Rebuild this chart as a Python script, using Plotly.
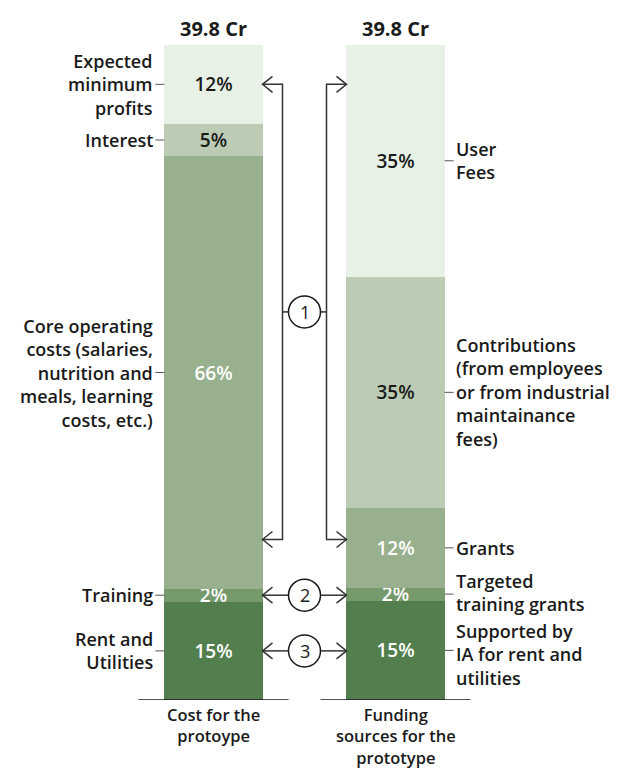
import plotly.graph_objects as go

# Two stacked columns: what the prototype costs and where the money comes from
columns = [["Cost for the", "protoype"], ["Funding", "sources for the", "prototype"]]
column_totals = ["39.8 Cr", "39.8 Cr"]

# Shares in percent, listed bottom to top
cost_share = [15, 2, 66, 5, 12]
funding_share = [15, 2, 12, 35, 35]

cost_labels = [
    ["Rent and", "Utilities"],
    ["Training"],
    ["Core operating", "costs (salaries,", "nutrition and", "meals, learning", "costs, etc.)"],
    ["Interest"],
    ["Expected", "minimum", "profits"],
]
funding_labels = [
    ["Supported by", "IA for rent and", "utilities"],
    ["Targeted", "training grants"],
    ["Grants"],
    ["Contributions", "(from employees", "or from industrial", "maintainance", "fees)"],
    ["User", "Fees"],
]
# small vertical nudges (px) so the two bottom right-hand blocks don't collide
funding_nudge = [-4, 2, 0, 0, 0]

layer_colors = ["#537e4d", "#769a6b", "#98b08d", "#bccbb4", "#e8f1e5"]
value_text_colors = ["#ffffff", "#ffffff", "#ffffff", "#1a1a1a", "#1a1a1a"]

FONT = "Open Sans"
INK = "#1a1a1a"
LINE = "#333333"
BAR_W = 0.54
LABEL_SIZE = 18


def midpoints(shares):
    """Centre of each stacked segment on a 0-100 normalised scale."""
    total = sum(shares)
    mids, run = [], 0
    for s in shares:
        mids.append((run + s / 2) / total * 100)
        run += s
    return mids


cost_mid = midpoints(cost_share)
fund_mid = midpoints(funding_share)

fig = go.Figure()
for i, color in enumerate(layer_colors):
    fig.add_trace(go.Bar(
        x=[0, 1],
        y=[cost_share[i], funding_share[i]],
        width=BAR_W,
        marker=dict(color=color, line=dict(width=0)),
        text=[f"{cost_share[i]}%", f"{funding_share[i]}%"],
        textposition="inside",
        insidetextanchor="middle",
        textangle=0,
        constraintext="none",
        textfont=dict(family=FONT, size=19, color=value_text_colors[i], weight=600),
        hoverinfo="skip",
        showlegend=False,
    ))

annotations = []
shapes = []
label_font = dict(family=FONT, size=LABEL_SIZE, color=INK, weight=600)

# Totals above and captions below each column
for xi in (0, 1):
    annotations.append(dict(
        x=xi, y=100, xref="x", yref="y", text=column_totals[xi], showarrow=False,
        yanchor="middle", yshift=17,
        font=dict(family=FONT, size=20, color=INK, weight=700),
    ))
    annotations.append(dict(
        x=xi, y=0, xref="x", yref="y", text="<br>".join(columns[xi]), showarrow=False,
        yanchor="top", yshift=-1,
        font=dict(family=FONT, size=16.5, color=INK, weight=600),
    ))
    # baseline under the column
    shapes.append(dict(
        type="line", xref="x", yref="y", xsizemode="pixel", xanchor=xi,
        x0=-75, x1=75, y0=0, y1=0, line=dict(color=INK, width=1.5),
    ))

# Segment names with leader ticks
for i in range(len(cost_share)):
    annotations.append(dict(
        x=-BAR_W / 2, y=cost_mid[i], xref="x", yref="y", text="<br>".join(cost_labels[i]),
        showarrow=False, xanchor="right", yanchor="middle", align="right", xshift=-9,
        font=label_font,
    ))
    shapes.append(dict(
        type="line", xref="x", yref="y", xsizemode="pixel", xanchor=-BAR_W / 2,
        x0=-9, x1=0, y0=cost_mid[i], y1=cost_mid[i], line=dict(color="#555555", width=1),
    ))
    annotations.append(dict(
        x=1 + BAR_W / 2, y=fund_mid[i], xref="x", yref="y", text="<br>".join(funding_labels[i]),
        showarrow=False, xanchor="left", yanchor="middle", align="left", xshift=9,
        yshift=funding_nudge[i], font=label_font,
    ))
    shapes.append(dict(
        type="line", xref="x", yref="y", xsizemode="pixel", xanchor=1 + BAR_W / 2,
        x0=0, x1=9, y0=fund_mid[i], y1=fund_mid[i], line=dict(color="#555555", width=1),
    ))

# Connectors between the columns (pixel offsets around the gap centre)
GAP_X = 0.5
EDGE = 42     # distance from gap centre to column edge
RAIL = 22     # bracket rail offset
R = 16        # badge radius
HEAD = 10     # arrowhead length


def arrowhead(y, direction):
    # direction -1 points left (tip at left column), +1 points right
    tip = direction * EDGE
    back = tip - direction * HEAD
    shapes.append(dict(
        type="path", xref="x", yref="y", xsizemode="pixel", ysizemode="pixel",
        xanchor=GAP_X, yanchor=y,
        path=f"M {back},8 L {tip},0 L {back},-8",
        line=dict(color=LINE, width=1.5),
    ))


def badge(y, label):
    shapes.append(dict(
        type="circle", xref="x", yref="y", xsizemode="pixel", ysizemode="pixel",
        xanchor=GAP_X, yanchor=y, x0=-R, x1=R, y0=-R, y1=R,
        line=dict(color=INK, width=1.5), fillcolor="white",
    ))
    annotations.append(dict(
        x=GAP_X, y=y, xref="x", yref="y", text=label, showarrow=False,
        font=dict(family=FONT, size=18, color=INK, weight=500),
    ))


def hline(y, a, b):
    shapes.append(dict(
        type="line", xref="x", yref="y", xsizemode="pixel", xanchor=GAP_X,
        x0=a, x1=b, y0=y, y1=y, line=dict(color=LINE, width=1.5),
    ))


# 1: margins, interest and running costs are paid by fees, contributions and grants
b_top = cost_mid[4]
b_bot = 24.5
b_mid = (b_top + b_bot) / 2
for side in (-1, 1):
    shapes.append(dict(
        type="path", xref="x", yref="y", xsizemode="pixel", xanchor=GAP_X,
        path=(f"M {side * EDGE},{b_top} L {side * RAIL},{b_top} "
              f"L {side * RAIL},{b_bot} L {side * EDGE},{b_bot}"),
        line=dict(color=LINE, width=1.5),
    ))
    arrowhead(b_top, side)
    arrowhead(b_bot, side)
    hline(b_mid, side * RAIL, side * R)
badge(b_mid, "1")

# 2: training, 3: rent and utilities
for idx, label in ((1, "2"), (0, "3")):
    y = cost_mid[idx]
    hline(y, -EDGE, -R)
    hline(y, R, EDGE)
    arrowhead(y, -1)
    arrowhead(y, 1)
    badge(y, label)

fig.update_layout(
    width=619, height=770,
    margin=dict(l=0, r=0, t=45, b=70),
    barmode="stack", barnorm="percent",
    plot_bgcolor="white", paper_bgcolor="white",
    xaxis=dict(range=[-1.1731, 2.228], visible=False, fixedrange=True),
    yaxis=dict(range=[0, 100], visible=False, fixedrange=True),
    annotations=annotations,
    shapes=shapes,
    font=dict(family=FONT, color=INK),
)

fig.write_html("out.html")
